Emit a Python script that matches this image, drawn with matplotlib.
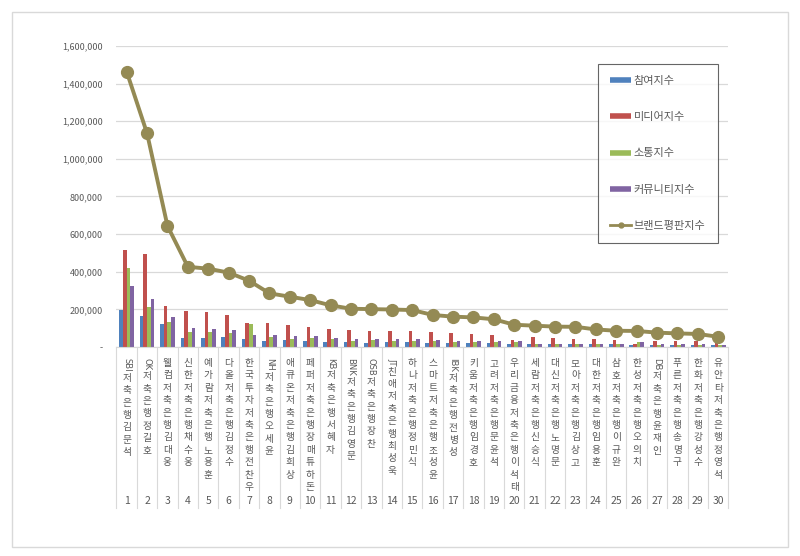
import re
import numpy as np
import matplotlib
matplotlib.use("Agg")
import matplotlib.pyplot as plt
from matplotlib.lines import Line2D
from matplotlib.patches import Rectangle
from matplotlib.transforms import blended_transform_factory, offset_copy
from matplotlib.ticker import FuncFormatter

plt.rcParams["font.family"] = ["Noto Sans CJK KR", "DejaVu Sans"]

# 순위별 저축은행 CEO
names = [
    "SBI저축은행 김문석", "OK저축은행 정길호", "웰컴저축은행 김대웅", "신한저축은행 채수웅",
    "예가람저축은행 노용훈", "다올저축은행 김정수", "한국투자저축은행 전찬우", "NH저축은행 오세윤",
    "애큐온저축은행 김희상", "페퍼저축은행 장매튜하돈", "KB저축은행 서혜자", "BNK저축은행 김영문",
    "OSB저축은행 장찬", "JT친애저축은행 최성욱", "하나저축은행 정민식", "스마트저축은행 조성윤",
    "IBK저축은행 전병성", "키움저축은행 임경호", "고려저축은행 문윤석", "우리금융저축은행 이석태",
    "세람저축은행 신승식", "대신저축은행 노명문", "모아저축은행 김상고", "대한저축은행 임용훈",
    "삼호저축은행 이규완", "한성저축은행 오의치", "DB저축은행 윤재인", "푸른저축은행 송명구",
    "한화저축은행 강성수", "유안타저축은행 정영석",
]
ranks = list(range(1, 31))

participation = [196000, 164000, 122000, 47000, 45000, 52000, 40000, 32000, 37000, 34000,
                 27000, 27000, 22000, 25000, 24000, 20000, 19000, 19000, 19000, 18000,
                 15000, 15000, 14000, 14000, 13000, 12000, 12000, 11000, 10000, 9000]
media = [515000, 494000, 217000, 193000, 184000, 168000, 125000, 128000, 116000, 108000,
         96000, 88000, 86000, 86000, 83000, 79000, 72000, 69000, 65000, 37000,
         51000, 46000, 44000, 40000, 37000, 15000, 30000, 30000, 30000, 22000]
communication = [419000, 210000, 132000, 79000, 78000, 73000, 120000, 52000, 43000, 47000,
                 43000, 34000, 35000, 32000, 32000, 30000, 28000, 28000, 25000, 28000,
                 15000, 14000, 18000, 16000, 15000, 24000, 12000, 12000, 12000, 10000]
community = [324000, 256000, 161000, 100000, 97000, 88000, 66000, 66000, 60000, 58000,
             47000, 43000, 43000, 43000, 43000, 35000, 32000, 32000, 30000, 30000,
             18000, 17000, 16000, 15000, 15000, 26000, 14000, 13000, 13000, 12000]
brand = [1463000, 1135000, 643000, 426000, 416000, 395000, 352000, 285000, 267000, 249000,
         221000, 203000, 201000, 199000, 196000, 170000, 161000, 157000, 147000, 118000,
         113000, 108000, 107000, 93000, 86000, 85000, 76000, 72000, 69000, 54000]

series_names = ["참여지수", "미디어지수", "소통지수", "커뮤니티지수"]
bar_colors = ["#4F81BD", "#C0504D", "#9BBB59", "#8064A2"]
line_color = "#948A54"
text_color = "#595959"

fig = plt.figure(figsize=(8, 5.56), dpi=100)
ax = fig.add_axes([0.1456, 0.376, 0.765, 0.5414])

# 바깥 테두리
fig.patches.append(Rectangle((12 / 800, 1 - 547 / 556), 776 / 800, 535 / 556,
                             transform=fig.transFigure, fill=False,
                             edgecolor="#d9d9d9", linewidth=1.0))

x = np.arange(len(names))
bw = 0.18
for k, vals in enumerate([participation, media, communication, community]):
    ax.bar(x + (k - 1.5) * bw, vals, width=bw, color=bar_colors[k], zorder=2)

ax.plot(x, brand, color=line_color, linewidth=2.8, marker="o", markersize=8.5, zorder=3)

ax.set_xlim(-0.5, len(names) - 0.5)
ax.set_ylim(0, 1600000)
ax.set_yticks(np.arange(0, 1600001, 200000))
ax.yaxis.set_major_formatter(FuncFormatter(lambda v, p: "-" if v == 0 else f"{int(v):,}"))
ax.tick_params(axis="y", length=0, labelsize=6.5, labelcolor=text_color, pad=10)
ax.set_xticks([])
ax.grid(axis="y", color="#d9d9d9", linewidth=0.9, zorder=0)
for s in ["top", "right", "left"]:
    ax.spines[s].set_visible(False)
ax.spines["bottom"].set_color("#d9d9d9")

# x축 라벨 영역
trans = blended_transform_factory(ax.transData, ax.transAxes)
for i in range(len(names) + 1):
    ax.plot([i - 0.5, i - 0.5], [0, -0.535], transform=trans, color="#d9d9d9",
            linewidth=0.8, clip_on=False)

fig.canvas.draw()
renderer = fig.canvas.get_renderer()
y_top = -0.037
for i, name in enumerate(names):
    m = re.match(r"^([A-Za-z]*)(.*)$", name)
    prefix, rest = m.group(1), m.group(2).replace(" ", "")
    shift = 0
    if prefix:
        t = ax.text(i, y_top, prefix, transform=trans, rotation=-90, ha="center", va="top",
                    fontsize=6, color=text_color, family="DejaVu Sans")
        shift = t.get_window_extent(renderer).height + 1
    tr = offset_copy(trans, fig=fig, y=-shift, units="dots")
    ax.text(i, y_top, "\n".join(rest), transform=tr, ha="center", va="top",
            fontsize=7, color=text_color, linespacing=1.3)
    ax.text(i, -0.512, str(ranks[i]), transform=trans, ha="center", va="center",
            fontsize=7.5, color=text_color)

handles = [Line2D([], [], color=c, linewidth=4, solid_capstyle="butt") for c in bar_colors]
handles.append(Line2D([], [], color=line_color, linewidth=2, marker="o", markersize=3.5))
leg = fig.legend(handles, series_names + ["브랜드평판지수"], loc="upper left",
                 bbox_to_anchor=(598 / 800, 1 - 64 / 556), borderaxespad=0,
                 fontsize=8, labelspacing=2.35, handlelength=1.9, handletextpad=0.2,
                 borderpad=1.1, fancybox=False, frameon=True)
leg.get_frame().set_edgecolor("#404040")
leg.get_frame().set_linewidth(0.8)
for t in leg.get_texts():
    t.set_color(text_color)

fig.savefig("out.png", dpi=100, facecolor="white")
